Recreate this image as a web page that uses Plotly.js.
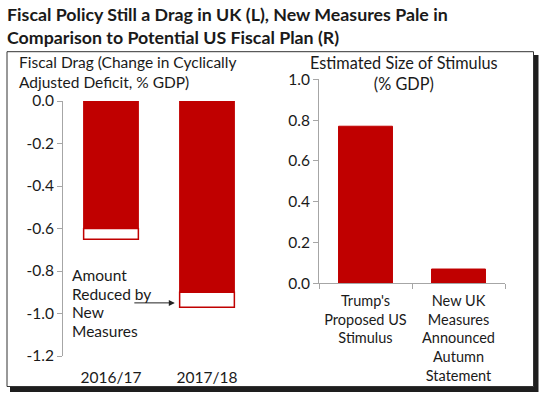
<!DOCTYPE html>
<html>
<head>
<meta charset="utf-8">
<script src="https://cdn.plot.ly/plotly-3.0.1.min.js"></script>
<style>html,body{margin:0;padding:0;background:#fff;}#chart{width:553px;height:396px;}</style>
</head>
<body>
<div id="chart"></div>
<script>
// ---- data ----
var chartTitle = 'Fiscal Policy Still a Drag in UK (L), New Measures Pale in<br>Comparison to Potential US Fiscal Plan (R)';
var leftCategories = ['2016/17', '2017/18'];
var dragAfterMeasures = [-0.60, -0.90];     // red part
var amountReducedByMeasures = [-0.05, -0.07]; // white part
var leftTickVals = [0, -0.2, -0.4, -0.6, -0.8, -1.0, -1.2];
var leftTickText = ['0.0', '-0.2', '-0.4', '-0.6', '-0.8', '-1.0', '-1.2'];
var noteLines = ['Amount', 'Reduced by', 'New', 'Measures'];

var rightCategories = ["Trump's<br>Proposed US<br>Stimulus", 'New UK<br>Measures<br>Announced<br>Autumn<br>Statement'];
var stimulusSize = [0.77, 0.07];
var rightTickVals = [0, 0.2, 0.4, 0.6, 0.8, 1.0];
var rightTickText = ['0.0', '0.2', '0.4', '0.6', '0.8', '1.0'];

// ---- styling ----
var W = 553, H = 396;
var RED = '#C00000';
var AX = '#A6A6A6';
var TXT = '#1a1a1a';
var FONT = 'Lato, "Open Sans", sans-serif';
var FS = 15.5;
function px(x) { return x / W; }
function py(y) { return 1 - y / H; }

var traces = [
  { type: 'bar', x: leftCategories, y: dragAfterMeasures, xaxis: 'x', yaxis: 'y',
    width: 0.57, marker: { color: RED, line: { color: RED, width: 1 } }, hoverinfo: 'skip' },
  { type: 'bar', x: leftCategories, y: amountReducedByMeasures, xaxis: 'x', yaxis: 'y',
    width: 0.57, marker: { color: '#ffffff', line: { color: RED, width: 1.5 } }, hoverinfo: 'skip' },
  { type: 'bar', x: rightCategories, y: stimulusSize, xaxis: 'x2', yaxis: 'y2',
    width: 0.58, marker: { color: RED, line: { color: RED, width: 1 } }, hoverinfo: 'skip' }
];

var annotations = [
  { text: '<b>' + chartTitle + '</b>',
    xref: 'paper', yref: 'paper', x: px(5), y: py(1), xanchor: 'left', yanchor: 'top',
    align: 'left', showarrow: false, font: { family: FONT, size: 17.8, color: TXT } },
  { text: 'Fiscal Drag (Change in Cyclically<br>Adjusted Deficit, % GDP)',
    xref: 'paper', yref: 'paper', x: px(17), y: py(51), xanchor: 'left', yanchor: 'top',
    align: 'left', showarrow: false, font: { family: FONT, size: FS, color: TXT } },
  { text: 'Estimated Size of Stimulus<br>(% GDP)',
    xref: 'paper', yref: 'paper', x: px(404), y: py(51), xanchor: 'center', yanchor: 'top',
    align: 'center', showarrow: false, font: { family: FONT, size: 16.3, color: TXT } },
  { text: '', xref: 'x', yref: 'y', x: 0.665, y: -0.95, ax: -42, ay: 0,
    showarrow: true, arrowhead: 2, arrowsize: 1.2, arrowwidth: 1, arrowcolor: '#222222' }
];
noteLines.forEach(function (t, i) {
  annotations.push({ text: t, xref: 'paper', yref: 'paper', x: px(70), y: py(275 + i * 18.5),
    xanchor: 'left', yanchor: 'middle', align: 'left', showarrow: false,
    font: { family: FONT, size: FS, color: TXT } });
});

var layout = {
  width: W, height: H,
  margin: { l: 0, r: 0, t: 0, b: 0 },
  paper_bgcolor: '#ffffff', plot_bgcolor: 'rgba(0,0,0,0)',
  showlegend: false, barmode: 'relative',
  font: { family: FONT, size: FS, color: TXT },
  xaxis: {
    type: 'category', domain: [px(63), px(255)], anchor: 'y',
    showline: false, showgrid: false, zeroline: false,
    ticks: '', ticklabelstandoff: 10, tickangle: 0,
    tickfont: { family: FONT, size: FS, color: TXT }, range: [-0.5, 1.5]
  },
  xaxis3: {
    overlaying: 'x', anchor: 'y', side: 'top', type: 'linear',
    range: [-0.5, 1.5], domain: [px(63), px(255)],
    showline: true, linecolor: AX, linewidth: 1,
    ticks: 'outside', tickvals: [0.5, 1.5], ticklen: 5, tickcolor: AX,
    showticklabels: false, showgrid: false, zeroline: false
  },
  yaxis: {
    domain: [py(356), py(101)], anchor: 'x', range: [-1.2, 0],
    tickvals: leftTickVals, ticktext: leftTickText,
    showline: true, linecolor: AX, ticks: 'outside', ticklen: 5, tickcolor: AX,
    showgrid: false, zeroline: false,
    tickfont: { family: FONT, size: FS, color: TXT }
  },
  xaxis2: {
    type: 'category', domain: [px(319), px(505)], anchor: 'y2',
    showline: true, linecolor: AX, ticks: 'outside', tickson: 'boundaries',
    ticklen: 5, tickcolor: AX, showgrid: false, zeroline: false, tickangle: 0,
    ticklabelstandoff: 4,
    tickfont: { family: FONT, size: 14.5, color: TXT }, range: [-0.5, 1.5]
  },
  yaxis2: {
    domain: [py(283.3), py(79.3)], anchor: 'x2', range: [0, 1],
    tickvals: rightTickVals, ticktext: rightTickText,
    showline: true, linecolor: AX, ticks: 'outside', ticklen: 5, tickcolor: AX,
    showgrid: false, zeroline: false,
    tickfont: { family: FONT, size: FS, color: TXT }
  },
  shapes: [
    { type: 'rect', xref: 'paper', yref: 'paper', layer: 'below',
      x0: px(10), x1: px(538.5), y0: py(392), y1: py(55),
      fillcolor: '#1e1e1e', line: { width: 0 } },
    { type: 'rect', xref: 'paper', yref: 'paper', layer: 'below',
      x0: px(7), x1: px(533.5), y0: py(386.5), y1: py(51.7),
      fillcolor: '#ffffff', line: { color: '#333333', width: 1 } }
  ],
  annotations: annotations
};

Plotly.newPlot('chart', traces, layout, { displayModeBar: false, staticPlot: true });
</script>
</body>
</html>
